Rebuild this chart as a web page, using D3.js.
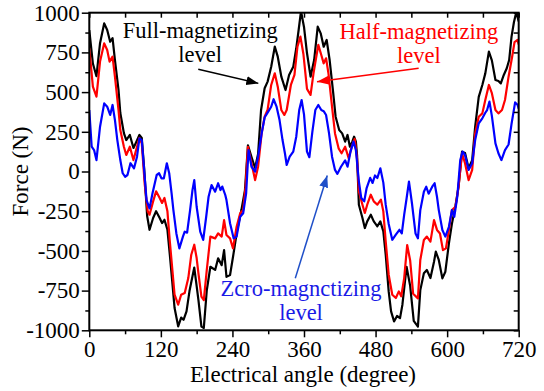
<!DOCTYPE html>
<html>
<head>
<meta charset="utf-8">
<script src="https://cdn.jsdelivr.net/npm/d3@7"></script>
<style>
  body { margin: 0; background: #fff; }
  svg { font-family: "Liberation Serif", "Times New Roman", serif; }
</style>
</head>
<body>
<div id="chart"></div>
<script>
// force vs electrical angle, [angle (deg), force (N)]
const fullLevel = [[0,890],[6,680],[12,600],[18,808],[25,933],[30,891],[35,817],[39,840],[43,702],[49,513],[52,368],[58,242],[62,198],[68,230],[74,148],[78,180],[84,230],[88,211],[92,20],[97,-280],[101,-367],[107,-293],[112,-250],[118,-293],[122,-325],[126,-304],[131,-367],[135,-524],[139,-690],[143,-860],[149,-975],[154,-920],[158,-934],[163,-881],[168,-753],[176,-605],[179,-692],[183,-810],[188,-977],[192,-985],[197,-748],[203,-600],[211,-620],[216,-547],[222,-590],[226,-495],[230,-663],[236,-652],[241,-537],[248,-368],[255,-243],[261,-117],[266,165],[272,91],[278,22],[283,110],[288,387],[294,524],[299,566],[305,660],[311,786],[316,723],[322,597],[329,513],[335,608],[342,660],[347,776],[351,891],[355,1010],[360,910],[365,746],[371,597],[377,702],[383,912],[388,870],[393,786],[398,828],[403,702],[409,493],[413,345],[419,261],[424,240],[429,188],[433,230],[437,156],[441,188],[444,219],[447,188],[449,100],[452,-209],[458,-293],[462,-356],[466,-314],[472,-272],[477,-314],[483,-345],[488,-314],[493,-377],[497,-524],[502,-755],[506,-881],[511,-944],[516,-910],[521,-923],[525,-839],[532,-600],[538,-720],[544,-940],[551,-977],[555,-747],[561,-641],[566,-620],[572,-671],[578,-568],[581,-505],[586,-557],[592,-673],[597,-631],[603,-452],[608,-330],[614,-215],[619,-100],[625,125],[630,116],[636,20],[642,72],[647,282],[653,470],[659,545],[664,618],[670,755],[675,700],[681,576],[686,570],[690,555],[695,608],[700,650],[704,702],[708,849],[712,940],[716,1005],[720,945]];

const halfLevel = [[0,776],[6,534],[12,471],[18,692],[25,807],[30,765],[34,692],[39,723],[43,597],[49,387],[52,261],[58,156],[62,104],[68,156],[74,72],[80,156],[84,211],[88,177],[93,-83],[98,-251],[101,-272],[107,-188],[112,-125],[118,-167],[122,-198],[126,-167],[131,-251],[135,-440],[139,-608],[143,-776],[149,-839],[154,-776],[160,-765],[166,-671],[171,-524],[176,-461],[180,-545],[183,-641],[188,-788],[192,-810],[197,-620],[203,-410],[211,-421],[216,-390],[222,-410],[226,-306],[230,-400],[236,-421],[241,-484],[247,-348],[253,-263],[258,-243],[262,-100],[266,156],[272,52],[278,-54],[283,30],[289,240],[294,345],[299,390],[305,545],[311,618],[316,534],[322,387],[327,356],[331,387],[338,545],[344,608],[349,786],[354,849],[359,740],[365,520],[371,482],[376,620],[384,797],[389,734],[393,681],[397,713],[401,618],[407,408],[412,240],[418,146],[423,115],[429,156],[435,83],[440,156],[445,205],[449,80],[452,-125],[458,-209],[462,-261],[466,-209],[472,-146],[477,-188],[483,-209],[489,-177],[493,-251],[497,-440],[502,-650],[508,-776],[514,-797],[519,-755],[523,-786],[528,-671],[533,-463],[538,-560],[543,-770],[551,-799],[555,-557],[561,-431],[566,-410],[572,-442],[578,-306],[583,-368],[588,-390],[593,-495],[598,-484],[603,-368],[608,-243],[614,-222],[619,-100],[625,115],[630,52],[636,-54],[642,10],[647,240],[653,345],[659,366],[664,450],[670,545],[675,493],[681,387],[686,366],[692,387],[697,450],[703,597],[709,723],[713,815],[718,828],[720,800]];

const zeroLevel = [[0,387],[4,156],[8,135],[12,72],[18,282],[25,429],[30,408],[35,356],[39,419],[43,324],[47,198],[52,72],[56,-11],[60,-33],[64,-22],[69,52],[75,20],[80,93],[84,209],[88,198],[93,-40],[96,-180],[101,-232],[106,-137],[113,-22],[117,-11],[121,-43],[125,-43],[130,52],[134,-11],[138,-137],[141,-243],[146,-390],[151,-484],[157,-410],[160,-379],[164,-385],[169,-243],[173,-117],[176,-54],[180,-222],[186,-379],[191,-431],[196,-285],[200,-159],[205,-85],[211,-127],[216,-74],[220,-117],[223,-95],[228,-148],[230,-180],[236,-326],[242,-421],[247,-410],[253,-285],[258,-263],[263,-137],[267,135],[272,30],[278,-1],[283,93],[289,240],[294,340],[300,377],[305,408],[309,455],[314,408],[319,324],[324,198],[328,115],[331,41],[336,93],[342,125],[347,219],[352,387],[356,450],[360,360],[365,125],[369,90],[374,250],[379,387],[384,419],[389,387],[393,380],[397,356],[402,240],[407,93],[412,10],[416,-15],[422,30],[429,70],[433,30],[438,125],[443,188],[447,135],[452,-62],[456,-167],[461,-188],[465,-104],[471,-40],[475,-72],[479,-25],[483,-41],[488,20],[493,-70],[497,-209],[502,-330],[508,-430],[514,-398],[520,-367],[524,-390],[528,-272],[532,-170],[536,-64],[538,-117],[541,-200],[547,-390],[551,-421],[555,-243],[561,-127],[565,-96],[569,-140],[575,-96],[579,-74],[583,-159],[586,-243],[592,-368],[597,-410],[603,-348],[608,-243],[612,-285],[617,-159],[622,72],[626,125],[630,104],[636,10],[642,52],[647,198],[653,303],[659,335],[664,370],[667,387],[671,440],[675,350],[681,177],[686,115],[691,72],[697,135],[703,170],[708,300],[714,435],[718,420],[720,395]];

const xTicks = [0, 120, 240, 360, 480, 600, 720];
const xMinor = [60, 180, 300, 420, 540, 660];
const yTicks = [-1000, -750, -500, -250, 0, 250, 500, 750, 1000];
const yMinor = [-875, -625, -375, -125, 125, 375, 625, 875];

const W = 544, H = 391;
const margin = {top: 12.7, right: 25.3, bottom: 60.7, left: 89.3};
const width = W - margin.left - margin.right;
const height = H - margin.top - margin.bottom;

const svg = d3.select("#chart").append("svg")
    .attr("width", W).attr("height", H);

const g = svg.append("g")
    .attr("transform", "translate(" + margin.left + "," + margin.top + ")");

const x = d3.scaleLinear().domain([0, 720]).range([0, width]);
const y = d3.scaleLinear().domain([-1000, 1000]).range([height, 0]);

svg.append("defs").append("clipPath").attr("id", "clip")
  .append("rect").attr("width", width).attr("height", height);

const defs = svg.select("defs");
function marker(id, color) {
  defs.append("marker")
      .attr("id", id)
      .attr("markerUnits", "userSpaceOnUse")
      .attr("markerWidth", 13).attr("markerHeight", 10)
      .attr("refX", 12).attr("refY", 4.5)
      .attr("orient", "auto")
    .append("path")
      .attr("d", "M0,0 L12,4.5 L0,9 z")
      .attr("fill", color);
}
marker("arrBlack", "#000");
marker("arrRed", "#ff0000");
marker("arrBlue", "#1f4fc8");

// lines
const line = d3.line().x(d => x(d[0])).y(d => y(d[1]));
const series = [
  {data: fullLevel, color: "#000000"},
  {data: halfLevel, color: "#ff0000"},
  {data: zeroLevel, color: "#0000ff"}
];
g.append("g").attr("clip-path", "url(#clip)")
  .selectAll("path").data(series).enter().append("path")
    .attr("d", d => line(d.data))
    .attr("fill", "none")
    .attr("stroke", d => d.color)
    .attr("stroke-width", 2.2)
    .attr("stroke-linejoin", "round");

// axes
function styleAxis(sel) {
  sel.select(".domain").remove();
  sel.selectAll("line").attr("stroke", "#000").attr("stroke-width", 1.5);
  sel.selectAll("text").attr("fill", "#000").style("font-size", "23px")
     .style("font-family", "'Liberation Serif','Times New Roman',serif");
}

g.append("g").attr("transform", "translate(0," + height + ")")
  .call(d3.axisBottom(x).tickValues(xTicks).tickSize(7).tickPadding(3).tickFormat(d => String(d)))
  .call(styleAxis);
g.append("g").attr("transform", "translate(0," + height + ")")
  .call(d3.axisBottom(x).tickValues(xMinor).tickSize(4).tickFormat(""))
  .call(styleAxis);
g.append("g")
  .call(d3.axisLeft(y).tickValues(yTicks).tickSize(7.5).tickPadding(2).tickFormat(d => String(d)))
  .call(styleAxis);
g.append("g")
  .call(d3.axisLeft(y).tickValues(yMinor).tickSize(4).tickFormat(""))
  .call(styleAxis);
g.append("g")
  .call(d3.axisTop(x).tickValues(xTicks.concat(xMinor)).tickSize(-5).tickFormat(""))
  .call(styleAxis);
g.append("g").attr("transform", "translate(" + width + ",0)")
  .call(d3.axisRight(y).tickValues(yTicks.concat(yMinor)).tickSize(-5).tickFormat(""))
  .call(styleAxis);

g.append("rect")
  .attr("width", width).attr("height", height)
  .attr("fill", "none").attr("stroke", "#000").attr("stroke-width", 2);

// axis titles
g.append("text")
  .attr("x", width / 2 - 1).attr("y", height + 52)
  .attr("text-anchor", "middle")
  .style("font-size", "23px")
  .text("Electrical angle (degree)");

g.append("text")
  .attr("transform", "translate(" + (-61) + "," + (height / 2) + ") rotate(-90)")
  .attr("text-anchor", "middle")
  .style("font-size", "23px")
  .text("Force (N)");

// annotations, in data units
const notes = [
  {text: ["Full-magnetizing", "level"], color: "#000", arrow: "#000", mk: "arrBlack",
   at: [186, 840, 689], from: [182.7, 644], to: [283.4, 555]},
  {text: ["Half-magnetizing", "level"], color: "#ff0000", arrow: "#ff0000", mk: "arrRed",
   at: [552.5, 832, 681], from: [552.3, 650], to: [381.8, 565]},
  {text: ["Zcro-magnctizing", "level"], color: "#1a1ae6", arrow: "#1f4fc8", mk: "arrBlue",
   at: [355, -782, -933], from: [345.4, -672], to: [399, -25]}
];

notes.forEach(n => {
  n.text.forEach((t, i) => {
    g.append("text")
      .attr("x", x(n.at[0])).attr("y", y(n.at[i + 1]))
      .attr("text-anchor", "middle")
      .attr("fill", n.color)
      .style("font-size", "22.5px")
      .text(t);
  });
  g.append("line")
    .attr("x1", x(n.from[0])).attr("y1", y(n.from[1]))
    .attr("x2", x(n.to[0])).attr("y2", y(n.to[1]))
    .attr("stroke", n.arrow).attr("stroke-width", 1.5)
    .attr("marker-end", "url(#" + n.mk + ")");
});
</script>
</body>
</html>
